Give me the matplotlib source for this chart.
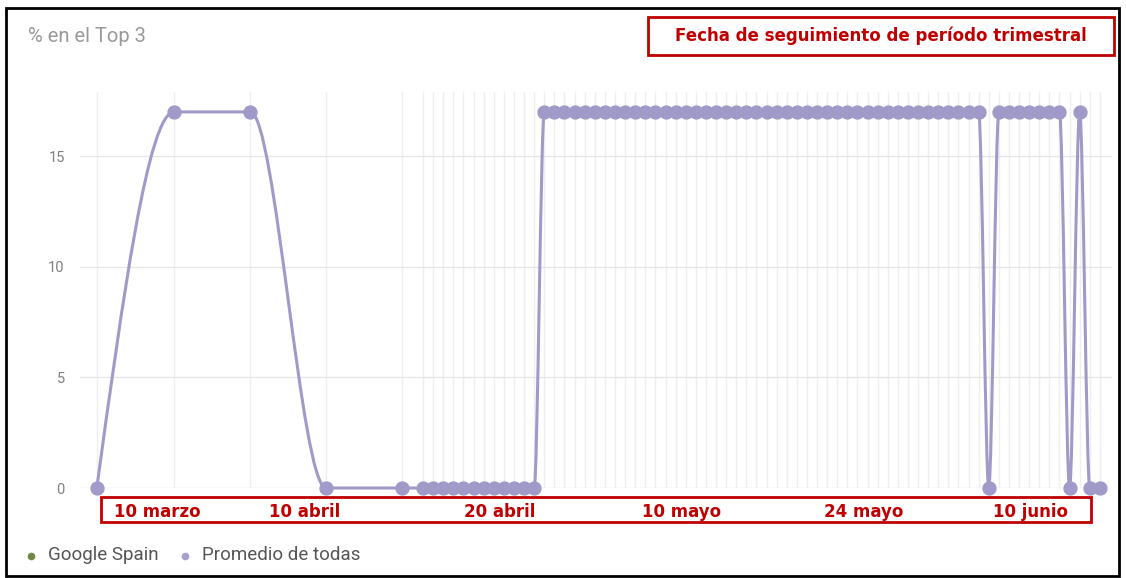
import numpy as np
import matplotlib.pyplot as plt
from matplotlib.path import Path
from matplotlib.patches import PathPatch, Rectangle
from matplotlib.lines import Line2D

# ---- data (x = day offset, y = % en el Top 3) ----
early_days = [-32.3, -24.65, -17.1, -9.6, -2.1]
early_vals = [0, 17, 17, 0, 0]

daily_days = list(range(68))
daily_vals = [0, 0, 0, 0, 0, 0, 0, 0, 0, 0, 0, 0,
              17, 17, 17, 17, 17, 17, 17, 17, 17, 17, 17, 17, 17, 17, 17, 17,
              17, 17, 17, 17, 17, 17, 17, 17, 17, 17, 17, 17, 17, 17, 17, 17,
              17, 17, 17, 17, 17, 17, 17, 17, 17, 17, 17, 17,
              0, 17, 17, 17, 17, 17, 17, 17, 0, 17, 0, 0]

yticks = [0, 5, 10, 15]
band_labels = ['10 marzo', '10 abril', '20 abril', '10 mayo', '24 mayo', '10 junio']
band_pos = [-26.3, -11.7, 7.6, 25.6, 43.6, 60.1]

title = '% en el Top 3'
note = 'Fecha de seguimiento de período trimestral'
legend_names = ['Google Spain', 'Promedio de todas']
legend_colors = ['#6f8a43', '#a5a0cc']

LINE = '#a09ac8'
RED = '#c00000'


def monotone_path(x, y):
    # same shape as a monotone-x spline (Steffen slopes, cubic bezier segments)
    x = np.asarray(x, float)
    y = np.asarray(y, float)
    n = len(x)
    h = np.diff(x)
    s = np.diff(y) / h
    t = np.zeros(n)
    for i in range(1, n - 1):
        p = (s[i - 1] * h[i] + s[i] * h[i - 1]) / (h[i - 1] + h[i])
        t[i] = (np.sign(s[i - 1]) + np.sign(s[i])) * min(abs(s[i - 1]), abs(s[i]), 0.5 * abs(p))
    t[0] = (3 * s[0] - t[1]) / 2
    t[-1] = (3 * s[-1] - t[-2]) / 2
    verts = [(x[0], y[0])]
    codes = [Path.MOVETO]
    for i in range(n - 1):
        dx = h[i] / 3
        verts += [(x[i] + dx, y[i] + dx * t[i]),
                  (x[i + 1] - dx, y[i + 1] - dx * t[i + 1]),
                  (x[i + 1], y[i + 1])]
        codes += [Path.CURVE4] * 3
    return Path(verts, codes)


W, H = 1126, 578
fig = plt.figure(figsize=(W / 100, H / 100), dpi=100)
fig.patch.set_facecolor('white')

def fx(px):
    return px / W

def fy(py):
    return 1 - py / H

ax = fig.add_axes([fx(80), fy(488), fx(1112) - fx(80), fy(92) - fy(488)])
ax.set_xlim(-33.96, 68.2)
ax.set_ylim(0, 17.9)

xs = early_days + daily_days
ys = early_vals + daily_vals

for xv in xs:
    ax.axvline(xv, color='#efefef', lw=1, zorder=0)
for yv in yticks:
    ax.axhline(yv, color='#e6e6e6', lw=1, zorder=0)

ax.add_patch(PathPatch(monotone_path(xs, ys), facecolor='none', edgecolor=LINE,
                       lw=2.2, zorder=2, clip_on=False))
ax.plot(xs, ys, ls='none', marker='o', ms=9.3, color=LINE, mec=LINE,
        zorder=3, clip_on=False)

ax.set_yticks(yticks)
ax.set_yticklabels([str(v) for v in yticks], fontsize=10.5, color='#808080', family='Roboto')
ax.tick_params(axis='y', length=0, pad=11)
ax.set_xticks([])
for sp in ax.spines.values():
    sp.set_visible(False)

# title
fig.text(fx(28), fy(37), title, fontsize=14.5, color='#999999', family='Roboto',
         va='center', ha='left')

# red note box, top right
fig.patches.append(Rectangle((fx(648), fy(55)), fx(1114) - fx(648), fy(17) - fy(55),
                             transform=fig.transFigure, fill=False, ec=RED, lw=2))
fig.text(fx(881), fy(36), note, fontsize=12, color=RED, fontweight='bold',
         family='DejaVu Sans', ha='center', va='center')

# red date band under the axis
fig.patches.append(Rectangle((fx(101), fy(522)), fx(1091) - fx(101), fy(497) - fy(522),
                             transform=fig.transFigure, fill=False, ec=RED, lw=2))
for lab, pos in zip(band_labels, band_pos):
    ax.annotate(lab, xy=(pos, 0), xycoords=('data', 'axes fraction'),
                xytext=(0, -24), textcoords='offset pixels',
                ha='center', va='center', fontsize=12, color=RED,
                family='DejaVu Sans', fontweight='bold', annotation_clip=False)

# legend
leg_x = [31, 185]
for px, name, col in zip(leg_x, legend_names, legend_colors):
    fig.add_artist(Line2D([fx(px)], [fy(556)], transform=fig.transFigure,
                          marker='o', ms=4.5, color=col, ls='none'))
    fig.text(fx(px + 17), fy(555), name, fontsize=13.5, color='#555555',
             family='Roboto', va='center', ha='left')

# screenshot frame
fig.patches.append(Rectangle((fx(6), fy(576)), fx(1119) - fx(6), fy(8) - fy(576),
                             transform=fig.transFigure, fill=False, ec='black', lw=2))

fig.savefig('out.png', dpi=100)
